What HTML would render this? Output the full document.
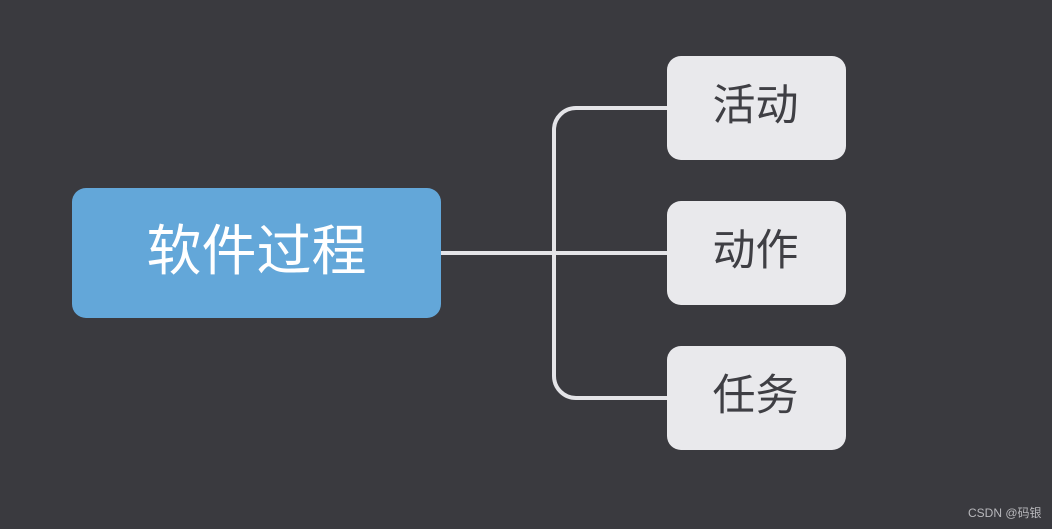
<!DOCTYPE html>
<html><head><meta charset="utf-8"><style>
body{margin:0;width:1052px;height:529px;background:#3a3a3f;position:relative;overflow:hidden;font-family:"Liberation Sans","Noto Sans CJK SC",sans-serif}
.b{position:absolute;display:flex;align-items:center;justify-content:center;box-sizing:border-box}
.c{left:72px;top:188px;width:369px;height:130px;background:#63a7d9;border-radius:14px;color:#fff;font-size:55px;padding-bottom:14px}
.r{left:667px;width:179px;height:104px;background:#e9e9ec;border-radius:14px;color:#3f3f44;font-size:43px;padding-bottom:12px;padding-right:2px}
</style></head><body>
<svg width="1052" height="529" style="position:absolute;left:0;top:0">
<g stroke="#e4e4e8" stroke-width="4" fill="none">
<line x1="441" y1="253" x2="668" y2="253"/>
<path d="M668 108 H576 A22 22 0 0 0 554 130 V376 A22 22 0 0 0 576 398 H668"/>
</g></svg>
<div class="b c">软件过程</div>
<div class="b r" style="top:56px">活动</div>
<div class="b r" style="top:201px">动作</div>
<div class="b r" style="top:346px">任务</div>
<div style="position:absolute;left:968px;top:504px;color:#b8b8bc;font-size:12px">CSDN @码银</div>
</body></html>
